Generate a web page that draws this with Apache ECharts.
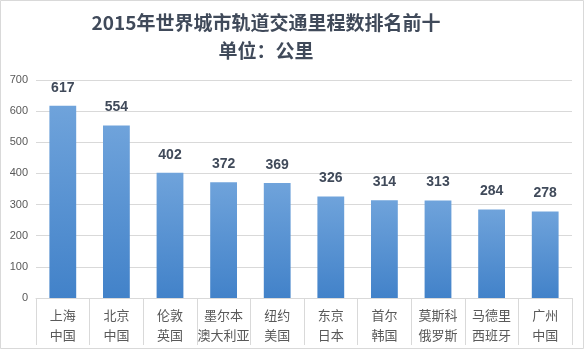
<!DOCTYPE html>
<html><head><meta charset="utf-8">
<script src="https://cdn.jsdelivr.net/npm/echarts@6/dist/echarts.min.js"></script>
<style>html,body{margin:0;padding:0;background:#fff}#c{width:587px;height:353px}</style>
</head><body><div id="c"></div>
<script>
var cities = ['上海','北京','伦敦','墨尔本','纽约','东京','首尔','莫斯科','马德里','广州'];
var countries = ['中国','中国','英国','澳大利亚','美国','日本','韩国','俄罗斯','西班牙','中国'];
var lengths = [617, 554, 402, 372, 369, 326, 314, 313, 284, 278];
var yTicks = [0, 100, 200, 300, 400, 500, 600, 700];

var categories = cities.map(function(c, i){ return c + '\n' + countries[i]; });
var chart = echarts.init(document.getElementById('c'), null, {renderer:'canvas'});
chart.setOption({
  animation:false,
  backgroundColor:'#fff',
  title:{
    text:'2015年世界城市轨道交通里程数排名前十\n单位：公里',
    left:261, textAlign:'center', top:4,
    textStyle:{fontFamily:'Noto Sans CJK SC', fontSize:19, fontWeight:'bold', color:'#404a5a', lineHeight:28, align:'center'}
  },
  graphic:[{type:'rect', shape:{x:0.5,y:0.5,width:583,height:348}, style:{fill:null, stroke:'#d9d9d9', lineWidth:1}, silent:true}],
  grid:{left:36, right:15, top:80, bottom:55},
  xAxis:{
    type:'category', data:categories,
    axisLine:{show:true, lineStyle:{color:'#d9d9d9'}},
    axisTick:{show:true, interval:0, length:47, lineStyle:{color:'#d9d9d9'}},
    axisLabel:{interval:0, color:'#595959', fontSize:13, fontFamily:'Noto Sans CJK SC', lineHeight:20, margin:7}
  },
  yAxis:{
    type:'value', min:yTicks[0], max:yTicks[yTicks.length-1], interval:100,
    axisLine:{show:false}, axisTick:{show:false},
    axisLabel:{color:'#595959', fontSize:11, fontFamily:'Liberation Sans', margin:8},
    splitLine:{lineStyle:{color:'#d9d9d9'}}
  },
  series:[{
    type:'bar', data:lengths, barWidth:'50%',
    itemStyle:{color:new echarts.graphic.LinearGradient(0,0,0,1,[{offset:0,color:'#6fa3db'},{offset:1,color:'#4282c9'}])},
    label:{show:true, position:'top', distance:11, color:'#404a5a', fontSize:14, fontWeight:'bold', fontFamily:'Liberation Sans'}
  }]
});
</script></body></html>
